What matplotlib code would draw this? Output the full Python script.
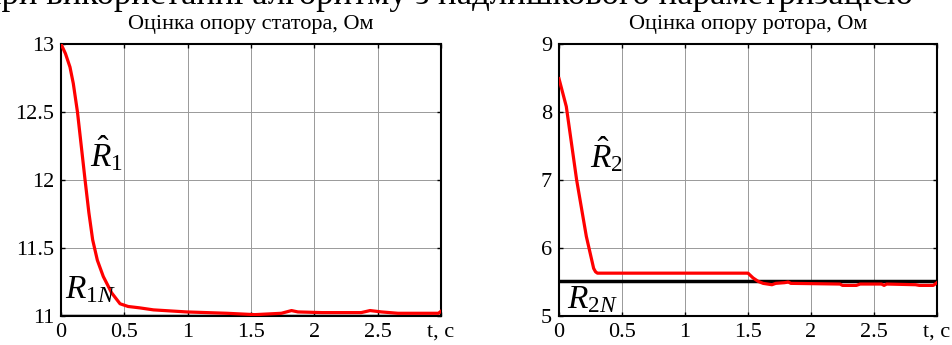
import numpy as np
import matplotlib
matplotlib.use('Agg')
import matplotlib.pyplot as plt

plt.rcParams['font.family'] = ['Liberation Serif', 'DejaVu Serif']
plt.rcParams['mathtext.fontset'] = 'custom'
plt.rcParams['mathtext.rm'] = 'Liberation Serif'
plt.rcParams['mathtext.it'] = 'Liberation Serif:italic'

# stator resistance estimate
t1 = [0, 0.035, 0.071, 0.097, 0.13, 0.16, 0.19, 0.22, 0.25, 0.287, 0.334, 0.40, 0.466,
      0.53, 0.62, 0.73, 0.99, 1.31, 1.53, 1.74, 1.82, 1.87, 2.06, 2.37, 2.44, 2.53, 2.66,
      2.98, 3.0]
r1_hat = [13.0, 12.93, 12.83, 12.71, 12.5, 12.25, 12.0, 11.76, 11.56, 11.41, 11.29, 11.17,
          11.09, 11.07, 11.06, 11.045, 11.03, 11.02, 11.01, 11.02, 11.04, 11.03, 11.025,
          11.025, 11.04, 11.03, 11.02, 11.02, 11.035]
r1_nom = 11.0

# rotor resistance estimate
t2 = [0, 0.058, 0.14, 0.217, 0.275, 0.29, 0.305, 1.5, 1.54, 1.58, 1.62, 1.69, 1.72, 1.79,
      1.82, 1.84, 2.23, 2.25, 2.36, 2.39, 2.56, 2.58, 2.6, 2.83, 2.86, 2.97, 3.0]
r2_hat = [8.49, 8.08, 7.0, 6.17, 5.7, 5.65, 5.63, 5.63, 5.56, 5.51, 5.48, 5.46, 5.48, 5.49,
          5.5, 5.48, 5.47, 5.45, 5.45, 5.47, 5.47, 5.45, 5.47, 5.46, 5.45, 5.45, 5.49]
r2_nom = 5.52

x_ticks = [0, 0.5, 1, 1.5, 2, 2.5, 3]
x_labels = ['0', '0.5', '1', '1.5', '2', '2.5', 't, c']
y1_ticks = [11, 11.5, 12, 12.5, 13]
y1_labels = ['11', '11.5', '12', '12.5', '13']
y2_ticks = [5, 6, 7, 8, 9]

title1 = 'Оцінка опору статора, Ом'
title2 = 'Оцінка опору ротора, Ом'
top_line = 'при використанні алгоритму з надлишкового параметризацією'

fig = plt.figure(figsize=(9.53, 3.45), dpi=100)
ax1 = fig.add_axes([61 / 953, 29 / 345, 380 / 953, 272 / 345])
ax2 = fig.add_axes([559 / 953, 29 / 345, 378 / 953, 272 / 345])

# heading of the page, cut by the top edge as in the source
fig.text(-0.018, 1 - 4.5 / 345, top_line, fontsize=25, va='baseline', ha='left')


def style_axes(ax, yticks, ylabels, ylim, title):
    ax.set_xlim(0, 3)
    ax.set_ylim(*ylim)
    ax.set_xticks(x_ticks)
    ax.set_xticklabels(x_labels)
    ax.set_yticks(yticks)
    ax.set_yticklabels(ylabels)
    ax.tick_params(direction='in', top=True, right=True, length=3, width=1,
                   labelsize=16, pad=5)
    ax.grid(True, color='0.6', linewidth=0.7)
    for s in ax.spines.values():
        s.set_linewidth(1.5)
    ax.set_title(title, fontsize=16, pad=11)


ax1.plot(t1, r1_hat, color='red', linewidth=2.3, zorder=3)
ax1.axhline(r1_nom, color='black', linewidth=2.5, zorder=2)
style_axes(ax1, y1_ticks, y1_labels, (11, 13), title1)
ax1.text(0.23, 12.1, r'$\hat{R}_1$', fontsize=24)
ax1.text(0.03, 11.13, r'$R_{1N}$', fontsize=24)

ax2.plot(t2, r2_hat, color='red', linewidth=2.3, zorder=3)
ax2.axhline(r2_nom, color='black', linewidth=2.5, zorder=2)
style_axes(ax2, y2_ticks, [str(v) for v in y2_ticks], (5, 9), title2)
ax2.text(0.246, 7.19, r'$\hat{R}_2$', fontsize=24)
ax2.text(0.063, 5.12, r'$R_{2N}$', fontsize=24)

fig.savefig('out.png', dpi=100)
